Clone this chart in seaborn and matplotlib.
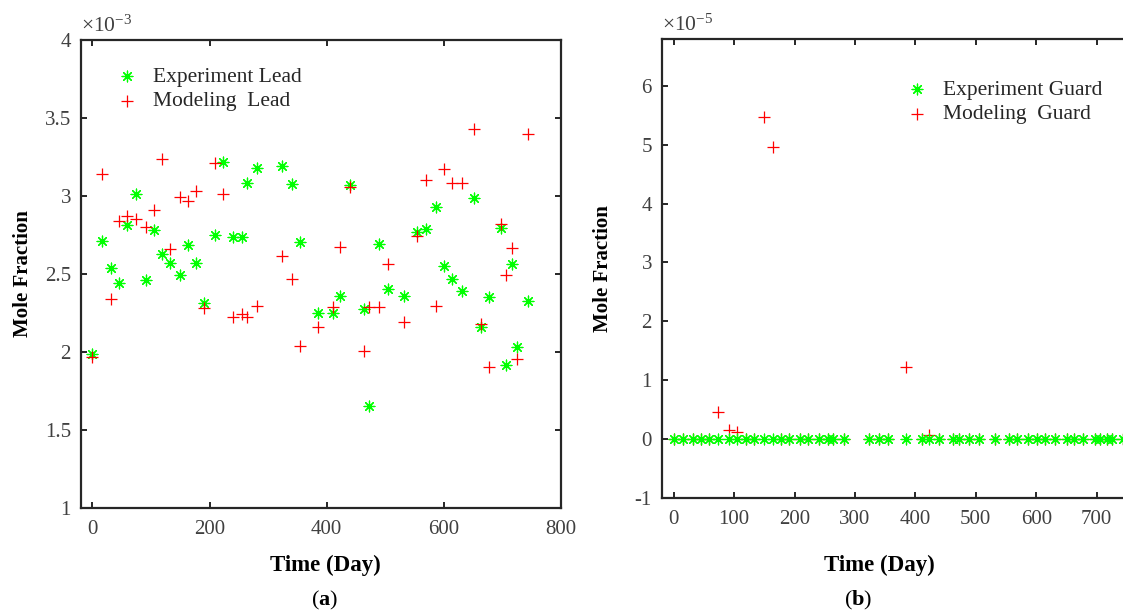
import matplotlib
matplotlib.use("Agg")
import matplotlib.pyplot as plt
import seaborn as sns
import pandas as pd
from matplotlib.ticker import FuncFormatter, MultipleLocator, FixedLocator

# ---------------- data ----------------
days = [0, 16, 31, 45, 59, 74, 91, 105, 119, 133, 150, 164, 177, 191, 209,
        223, 240, 255, 264, 281, 324, 340, 355, 385, 411, 423, 439, 463, 473,
        489, 505, 532, 555, 569, 586, 601, 614, 631, 651, 663, 677, 697, 706,
        717, 725, 743]

# Lead mole fraction, units of 1e-3
lead_exp = [1.985, 2.71, 2.536, 2.444, 2.812, 3.013, 2.46, 2.78, 2.626, 2.573,
            2.496, 2.686, 2.569, 2.312, 2.75, 3.216, 2.735, 2.735, 3.083, 3.18,
            3.19, 3.075, 2.705, 2.252, 2.248, 2.359, 3.07, 2.274, 1.656, 2.692,
            2.402, 2.359, 2.767, 2.786, 2.929, 2.549, 2.47, 2.391, 2.987, 2.162,
            2.355, 2.797, 1.917, 2.562, 2.034, 2.327]
lead_mod = [1.966, 3.141, 2.34, 2.842, 2.872, 2.85, 2.80, 2.91, 3.235, 2.662,
            2.992, 2.966, 3.034, 2.28, 3.21, 3.013, 2.222, 2.244, 2.222, 2.295,
            2.615, 2.466, 2.038, 2.158, 2.286, 2.671, 3.06, 2.009, 2.286, 2.286,
            2.562, 2.19, 2.744, 3.103, 2.295, 3.171, 3.081, 3.081, 3.43, 2.179,
            1.904, 2.818, 2.494, 2.669, 1.957, 3.395]

# Guard mole fraction, units of 1e-5
guard_exp = [0.0] * 46
guard_mod = [0, 0, 0, 0, 0, 0.45, 0.15, 0.11, 0, 0,
             5.48, 4.96, 0, 0, 0, 0, 0, 0, 0, 0,
             0, 0, 0, 1.23, 0, 0.07, 0, 0, 0, 0,
             0, 0, 0, 0, 0, 0, 0, 0, 0, 0,
             0, 0, 0, 0, 0, 0]

lead_ticks_x = [0, 200, 400, 600, 800]
guard_ticks_x = [0, 100, 200, 300, 400, 500, 600, 700]

lead_df = pd.DataFrame({"day": days, "exp": lead_exp, "mod": lead_mod})
guard_df = pd.DataFrame({"day": days, "exp": guard_exp, "mod": guard_mod})

# ---------------- style ----------------
sns.set_style("white")
plt.rcParams["font.family"] = ["Liberation Serif", "DejaVu Serif"]
plt.rcParams["axes.unicode_minus"] = False
plt.rcParams["mathtext.fontset"] = "custom"
plt.rcParams["mathtext.rm"] = "Liberation Serif"
plt.rcParams["mathtext.it"] = "Liberation Serif:italic"
plt.rcParams["mathtext.bf"] = "Liberation Serif:bold"

GREEN = "#00ff00"
RED = "#ff0000"
AX_COL = "#262626"
TXT_COL = "#404040"
ASTER = (8, 2, 0)

W, H = 1123, 613
fig = plt.figure(figsize=(W / 100, H / 100), dpi=100)


def px_axes(l, t, r, b):
    return fig.add_axes([l / W, 1 - b / H, (r - l) / W, (b - t) / H])


ax1 = px_axes(80.7, 40, 561, 508)
ax2 = px_axes(661.7, 39, 1157, 497.7)


def style_axes(ax):
    for s in ax.spines.values():
        s.set_color(AX_COL)
        s.set_linewidth(1.6)
    ax.tick_params(direction="in", length=4, width=1.4, colors=AX_COL,
                   labelcolor=TXT_COL, labelsize=15, top=True, right=True,
                   left=True, bottom=True)
    ax.tick_params(axis="x", pad=9)
    ax.tick_params(axis="y", pad=7)
    ax.grid(False)
    ax.set_facecolor("white")


fmt = FuncFormatter(lambda v, p: f"{v:g}")
LEG_KW = dict(frameon=False, fontsize=15.5, handletextpad=0.7,
              labelspacing=0.22, handlelength=1.0, borderaxespad=0.2)

# ---------------- panel (a) ----------------
sns.scatterplot(data=lead_df, x="day", y="exp", ax=ax1, marker=ASTER, s=60,
                color=GREEN, linewidth=0.9, label="Experiment Lead", zorder=3)
sns.scatterplot(data=lead_df, x="day", y="mod", ax=ax1, marker="+", s=75,
                color=RED, linewidth=0.9, label="Modeling  Lead", zorder=4)
ax1.set_xlim(-20, 800)
ax1.set_ylim(1, 4)
ax1.xaxis.set_major_locator(FixedLocator(lead_ticks_x))
ax1.yaxis.set_major_locator(MultipleLocator(0.5))
ax1.yaxis.set_major_formatter(fmt)
ax1.xaxis.set_major_formatter(fmt)
style_axes(ax1)
ax1.set_xlabel("Time (Day)", fontsize=16.5, fontweight="bold", color="black")
ax1.set_ylabel("Mole Fraction", fontsize=15, fontweight="bold", color="black")
ax1.xaxis.set_label_coords(0.509, -0.1)
ax1.yaxis.set_label_coords(-0.1, 0.5)
ax1.text(0.0, 1.006, r"$\times$10$^{\mathrm{-3}}$", transform=ax1.transAxes,
         ha="left", va="bottom", fontsize=15.5, color=TXT_COL)
ax1.legend(loc="upper left", bbox_to_anchor=(0.048, 0.971), **LEG_KW)

# ---------------- panel (b) ----------------
sns.scatterplot(data=guard_df, x="day", y="mod", ax=ax2, marker="+", s=75,
                color=RED, linewidth=0.9, label="Modeling  Guard", zorder=3)
sns.scatterplot(data=guard_df, x="day", y="exp", ax=ax2, marker=ASTER, s=60,
                color=GREEN, linewidth=0.9, label="Experiment Guard", zorder=4)
ax2.set_xlim(-20, 800)
ax2.set_ylim(-1, 6.8)
ax2.xaxis.set_major_locator(FixedLocator(guard_ticks_x))
ax2.yaxis.set_major_locator(MultipleLocator(1))
ax2.yaxis.set_major_formatter(fmt)
ax2.xaxis.set_major_formatter(fmt)
style_axes(ax2)
ax2.set_xlabel("Time (Day)", fontsize=16.5, fontweight="bold", color="black")
ax2.set_ylabel("Mole Fraction", fontsize=15, fontweight="bold", color="black")
ax2.xaxis.set_label_coords(0.44, -0.125)
ax2.yaxis.set_label_coords(-0.098, 0.5)
ax2.text(0.0, 1.006, r"$\times$10$^{\mathrm{-5}}$", transform=ax2.transAxes,
         ha="left", va="bottom", fontsize=15.5, color=TXT_COL)
h, l = ax2.get_legend_handles_labels()
ax2.legend(h[::-1], l[::-1], loc="upper left", bbox_to_anchor=(0.468, 0.94),
           **LEG_KW)

# ---------------- panel captions ----------------
fig.text(325 / W, 1 - 600 / H, r"($\mathbf{a}$)", ha="center", va="center",
         fontsize=16, color="black")
fig.text(858 / W, 1 - 600 / H, r"($\mathbf{b}$)", ha="center", va="center",
         fontsize=16, color="black")

fig.savefig("out.png", dpi=100, facecolor="white")
